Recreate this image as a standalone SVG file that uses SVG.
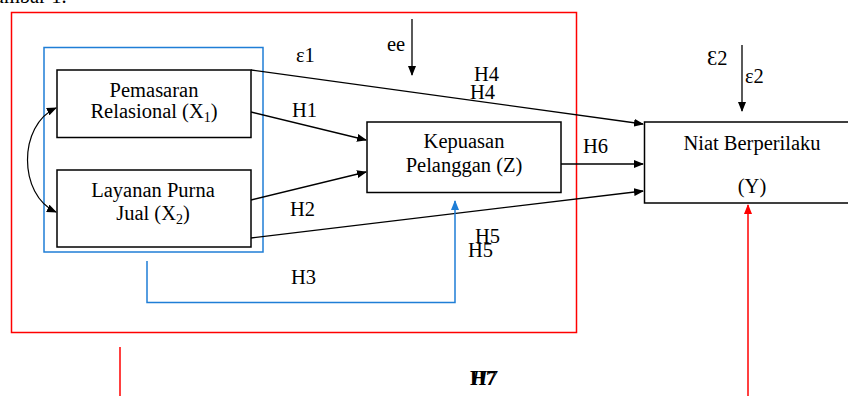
<svg xmlns="http://www.w3.org/2000/svg" width="848" height="396" viewBox="0 0 848 396">
<style>
text{font-family:"Liberation Serif","Times New Roman",serif;font-size:20.5px;fill:#000}
.node{fill:#fff;stroke:#000;stroke-width:1.5}
.c{fill:none;stroke:#000;stroke-width:1.3}
.red{fill:none;stroke:#ff0000;stroke-width:1.5}
.blue{fill:none;stroke:#1f7ed6;stroke-width:1.5}
.mid{text-anchor:middle}
</style>
<defs>
<marker id="ah" markerWidth="10" markerHeight="8" refX="9" refY="4" orient="auto" markerUnits="userSpaceOnUse"><path d="M0,0 L10,4 L0,8 z" fill="#000"/></marker>
<marker id="ahs" markerWidth="10" markerHeight="8" refX="9" refY="4" orient="auto-start-reverse" markerUnits="userSpaceOnUse"><path d="M0,0 L10,4 L0,8 z" fill="#000"/></marker>
<marker id="ahb" markerWidth="10" markerHeight="8" refX="9" refY="4" orient="auto" markerUnits="userSpaceOnUse"><path d="M0,0 L10,4 L0,8 z" fill="#1f7ed6"/></marker>
<marker id="ahr" markerWidth="10" markerHeight="8" refX="9" refY="4" orient="auto" markerUnits="userSpaceOnUse"><path d="M0,0 L10,4 L0,8 z" fill="#ff0000"/></marker>
</defs>
<text x="-20" y="3">Gambar 1.</text>
<rect class="red" x="11.5" y="12.5" width="565" height="320"/>
<rect class="blue" x="44" y="47.5" width="219" height="204.5"/>
<g id="connectors">
<path class="c" d="M251,70 L643,124" marker-end="url(#ah)"/>
<path class="c" d="M251,112 L366,140" marker-end="url(#ah)"/>
<path class="c" d="M251,200 L366,172" marker-end="url(#ah)"/>
<path class="c" d="M251,238 L643,191" marker-end="url(#ah)"/>
<path class="c" d="M561,164 L643,164" marker-end="url(#ah)"/>
<path class="c" d="M742,45 L742,111" marker-end="url(#ah)"/>
<path class="c" d="M412,19 L412,75" marker-end="url(#ah)"/>
<path class="c" d="M56,108 C18,125 18,195 56,212" marker-start="url(#ahs)" marker-end="url(#ahs)" style="stroke-width:1.2"/>
<path class="blue" d="M147,261 L147,302.5 L455,302.5 L455,201" marker-end="url(#ahb)"/>
<path class="red" d="M120,347 L120,396"/>
<path class="red" d="M748,396 L748,205" marker-end="url(#ahr)"/>
</g>
<g id="X1">
<rect class="node" x="57" y="70" width="194" height="67.5"/>
<text class="mid" x="154" y="97">Pemasaran</text>
<text class="mid" x="154" y="118">Relasional (X<tspan font-size="14" dy="4">1</tspan><tspan dy="-4">)</tspan></text>
</g>
<g id="X2">
<rect class="node" x="57" y="170" width="194" height="77"/>
<text class="mid" x="153" y="197">Layanan Purna</text>
<text class="mid" x="153" y="220">Jual (X<tspan font-size="14" dy="4">2</tspan><tspan dy="-4">)</tspan></text>
</g>
<g id="Z">
<rect class="node" x="367" y="122" width="194" height="70.5"/>
<text class="mid" x="464" y="148">Kepuasan</text>
<text class="mid" x="464" y="172">Pelanggan (Z)</text>
</g>
<g id="Y">
<rect class="node" x="644.5" y="122" width="210" height="81"/>
<text class="mid" x="752" y="150">Niat Berperilaku</text>
<text class="mid" x="752" y="193">(Y)</text>
</g>
<g id="labels">
<text x="296" y="62">ε1</text>
<text x="387" y="51" font-size="19">ee</text>
<text x="474" y="81">H4</text>
<text x="470" y="99">H4</text>
<text x="292" y="117">H1</text>
<text x="290" y="216">H2</text>
<text x="291" y="284">H3</text>
<text x="475" y="243">H5</text>
<text x="468" y="257">H5</text>
<text x="583" y="153">H6</text>
<text x="707" y="65" font-size="24">Ɛ2</text>
<text x="745" y="83">ε2</text>
<text x="470" y="385" font-size="18" font-weight="bold">H7</text>
<text x="472" y="385" font-size="18" font-style="italic">H7</text>
</g>
</svg>
